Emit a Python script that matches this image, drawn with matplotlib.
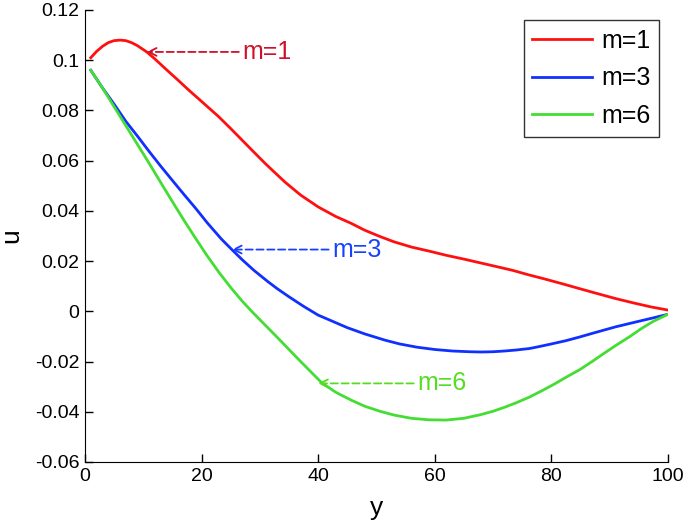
import matplotlib
matplotlib.use("Agg")
import matplotlib.pyplot as plt

plt.rcParams['font.family'] = ['Liberation Sans', 'DejaVu Sans']

# data
x_m1 = [1, 2, 3, 4, 5, 6, 7, 8, 9, 10.6, 12, 14, 16, 18, 20, 22.9, 25, 28.6, 31, 34.3, 37, 40, 43, 45.7,
        48, 50.6, 53, 56, 59, 62, 65, 68, 71, 73.4, 76, 79, 82, 84.9, 88, 91, 94, 97, 100]
u_m1 = [0.1010, 0.1035, 0.1055, 0.1070, 0.1078, 0.1080, 0.1078, 0.1070, 0.1058, 0.1033, 0.1005, 0.0962,
        0.0920, 0.0877, 0.0836, 0.0776, 0.0728, 0.0643, 0.0587, 0.0515, 0.0463, 0.0416, 0.0378, 0.0350,
        0.0323, 0.0298, 0.0277, 0.0256, 0.0240, 0.0223, 0.0208, 0.0192, 0.0176, 0.0163, 0.0146, 0.0128,
        0.0109, 0.0090, 0.0070, 0.0051, 0.0034, 0.0018, 0.0005]

x_m3 = [1, 3, 5, 7, 9, 11, 13, 15.4, 17, 19, 21, 23.4, 25.2, 27, 29, 31.4, 33, 35, 37.5, 40, 42.5, 45,
        48, 51.5, 54, 57, 60, 63, 66, 68, 70, 72, 74, 76.3, 78, 80, 82.5, 84.9, 87, 89, 91, 93.5, 95.5,
        97.5, 100]
u_m3 = [0.0960, 0.0890, 0.0825, 0.0757, 0.0698, 0.0637, 0.0578, 0.0510, 0.0465, 0.0410, 0.0352, 0.0288,
        0.0246, 0.0205, 0.0163, 0.0118, 0.0090, 0.0058, 0.0020, -0.0015, -0.0040, -0.0065, -0.0090,
        -0.0115, -0.0130, -0.0143, -0.0152, -0.0158, -0.0161, -0.0162, -0.0161, -0.0158, -0.0154,
        -0.0148, -0.0140, -0.0130, -0.0117, -0.0102, -0.0088, -0.0075, -0.0062, -0.0048, -0.0037,
        -0.0026, -0.0012]

x_m6 = [1, 3, 5, 7, 9, 11, 13, 15, 17, 19, 21, 23, 25, 27, 28.6, 30.5, 32.5, 34.3, 36.5, 38.5, 40.6, 43,
        45.7, 48, 50.6, 53, 56, 59, 62, 65, 67.8, 70, 72, 74, 76.3, 78.5, 80.5, 82.5, 84.9, 87, 89, 91,
        93.5, 95.5, 97.5, 100]
u_m6 = [0.0960, 0.0890, 0.0815, 0.0740, 0.0665, 0.0590, 0.0513, 0.0437, 0.0362, 0.0290, 0.0220, 0.0155,
        0.0095, 0.0040, 0.0000, -0.0045, -0.0092, -0.0135, -0.0188, -0.0235, -0.0284, -0.0322, -0.0354,
        -0.0378, -0.0398, -0.0413, -0.0426, -0.0432, -0.0433, -0.0426, -0.0412, -0.0398, -0.0382,
        -0.0364, -0.0341, -0.0315, -0.0290, -0.0263, -0.0232, -0.0200, -0.0168, -0.0137, -0.0100,
        -0.0068, -0.0040, -0.0012]

labels = ['m=1', 'm=3', 'm=6']
line_colors = ['#ff1010', '#1030ff', '#44dd33']
text_colors = ['#d0102a', '#1a40ff', '#55dd22']

# annotation: (tip x, tip y), text x
ann_tip = [(10.6, 0.1033), (25.2, 0.0246), (40.0, -0.0287)]
ann_text_x = [27.0, 42.4, 57.0]

fig = plt.figure(figsize=(6.85, 5.26), dpi=100)
ax = fig.add_axes([0.124, 0.1217, 0.851, 0.8593])

for xs, us, c, lab in zip([x_m1, x_m3, x_m6], [u_m1, u_m3, u_m6], line_colors, labels):
    ax.plot(xs, us, color=c, lw=2.0, label=lab, solid_joinstyle='round')

for (tx, ty), sx, tc, lab in zip(ann_tip, ann_text_x, text_colors, labels):
    ax.annotate('', xy=(tx, ty), xytext=(sx - 0.6, ty),
                arrowprops=dict(arrowstyle='->', color=tc, lw=1.3, linestyle=(0, (4, 2)),
                                shrinkA=0, shrinkB=0, mutation_scale=14))
    ax.text(sx, ty, lab, color=tc, fontsize=18, va='center', ha='left')

ax.set_xlim(0, 100)
ax.set_ylim(-0.06, 0.12)
ax.set_xticks([0, 20, 40, 60, 80, 100])
ax.set_yticks([-0.06, -0.04, -0.02, 0, 0.02, 0.04, 0.06, 0.08, 0.1, 0.12])
ax.set_yticklabels(['-0.06', '-0.04', '-0.02', '0', '0.02', '0.04', '0.06', '0.08', '0.1', '0.12'])
ax.spines['top'].set_visible(False)
ax.spines['right'].set_visible(False)
ax.tick_params(direction='in', length=6, width=1, labelsize=14, pad=4)
ax.set_xlabel('y', fontsize=19, labelpad=8)
ax.set_ylabel('u', fontsize=19, labelpad=8)

leg = ax.legend(loc='upper right', bbox_to_anchor=(0.985, 0.978), fontsize=18, frameon=True,
                fancybox=False, edgecolor='black', handlelength=2.4, handletextpad=0.35,
                borderpad=0.35, labelspacing=0.55, borderaxespad=0)
leg.get_frame().set_linewidth(1.0)

fig.savefig('out.png', dpi=100)
